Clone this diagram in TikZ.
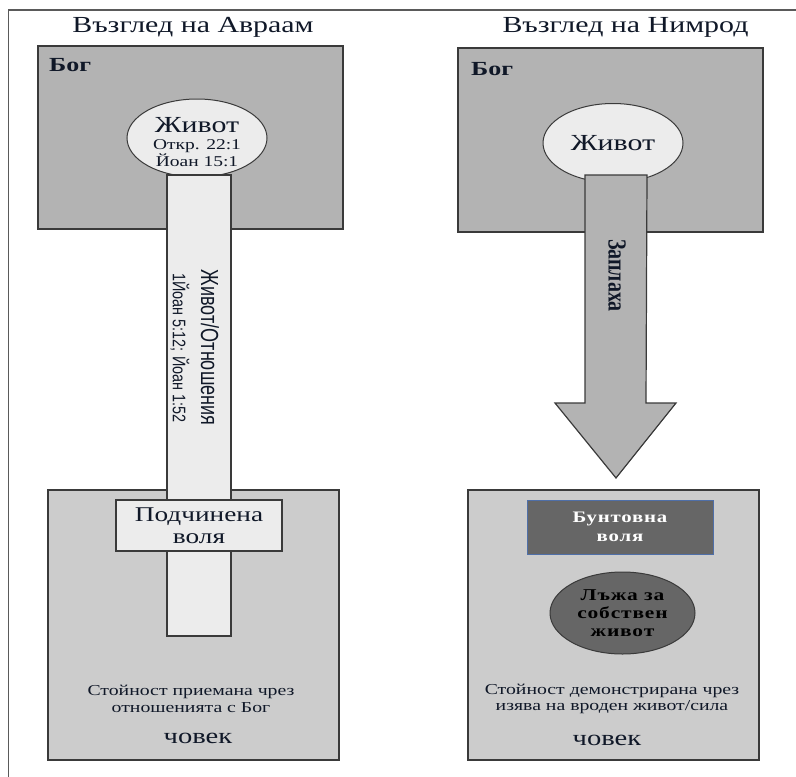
\documentclass[tikz,border=0pt]{standalone}
\usepackage{fontspec}
\setmainfont{Liberation Serif}[FakeStretch=1.3]
\newfontfamily\plainserif{Liberation Serif}
\newfontfamily\narrowsans{Liberation Sans}
\newfontfamily\spacedserif{Liberation Serif}[FakeStretch=1.3, LetterSpace=5]
\usepackage{graphicx}
\definecolor{godgray}{HTML}{B3B3B3}
\definecolor{mangray}{HTML}{CCCCCC}
\definecolor{lightfill}{HTML}{ECECEC}
\definecolor{darkfill}{HTML}{666666}
\definecolor{edgegray}{HTML}{3A3A3A}
\definecolor{framegray}{HTML}{5A5A5A}
\definecolor{bluedge}{HTML}{4F6FA8}
\definecolor{txt}{HTML}{101828}
\usetikzlibrary{shapes.geometric,calc}
\tikzset{
  godbox/.style={draw=edgegray, line width=1.2pt, fill=godgray, rectangle, inner sep=0pt},
  manbox/.style={draw=edgegray, line width=1.2pt, fill=mangray, rectangle, inner sep=0pt},
  lifeoval/.style={draw=edgegray, line width=1pt, fill=lightfill, ellipse, inner sep=0pt, align=center, text=txt},
  barbox/.style={draw=edgegray, line width=1.2pt, fill=lightfill, rectangle, inner sep=0pt},
  willbox/.style={draw=edgegray, line width=1.2pt, fill=lightfill, rectangle, inner sep=0pt, align=center, text=txt},
  titletext/.style={font=\fontsize{23}{25}\selectfont, text=txt, inner sep=0pt},
  labeltext/.style={inner sep=0pt, text=txt, align=center}
}
\begin{document}
\begin{tikzpicture}[x=1pt,y=-1pt]
\useasboundingbox (0,0) rectangle (796,777);
% frame
\coordinate (fa) at (8.5,777);
\coordinate (fb) at (8.5,10);
\coordinate (fc) at (796,10);
\draw[framegray, line width=1.6pt] (fa) -- (fb) -- (fc);

% ---------- Left: Abraham ----------
\node[titletext] (tA) at (193,27) {Възглед на Авраам};
\node[godbox, minimum width=305pt, minimum height=183pt] (godA) at (190.5,137.5) {};
\node[labeltext, anchor=west, font=\fontsize{20}{22}\selectfont\bfseries] (bogA) at (49,65) {Бог};
\node[lifeoval, minimum width=140pt, minimum height=78pt] (lifeA) at (197,138) {};
\node[manbox, minimum width=291pt, minimum height=270pt] (manA) at (193.5,625) {};
\node[barbox, minimum width=64pt, minimum height=461pt] (barA) at (199,405.5) {};
\node[labeltext, font=\fontsize{23}{24}\selectfont] (lifeAt) at (197,125) {Живот};
\node[labeltext, font=\fontsize{15}{15.5}\selectfont] (lifeAr) at (197,153) {Откр. 22:1\\Йоан 15:1};
\node[labeltext, rotate=-90] (barAt) at (210,347.5) {\scalebox{0.95}[1.3]{\narrowsans\fontsize{19}{20}\selectfont Живот/Отношения}};
\node[labeltext, rotate=-90] (barAr) at (180,348) {\scalebox{1.03}[1.3]{\narrowsans\fontsize{14}{16}\selectfont 1Йоан 5:12; Йоан 1:52}};
\node[willbox, minimum width=166pt, minimum height=51pt, font=\fontsize{21}{22}\selectfont] (willA) at (199,525.5) {Подчинена\\воля};
\node[labeltext, font=\fontsize{15.2}{16.5}\selectfont] (valA) at (191,699) {Стойност приемана чрез\\отношенията с Бог};
\node[labeltext, font=\fontsize{22}{24}\selectfont] (manAt) at (198,738) {човек};

% ---------- Right: Nimrod ----------
\node[titletext] (tN) at (625.5,27) {Възглед на Нимрод};
\node[godbox, minimum width=305pt, minimum height=184pt] (godN) at (610.5,140) {};
\node[labeltext, anchor=west, font=\fontsize{20}{22}\selectfont\bfseries] (bogN) at (471,69.5) {Бог};
\node[lifeoval, minimum width=140pt, minimum height=79pt, font=\fontsize{23}{24}\selectfont] (lifeN) at (613,143) {Живот};
\coordinate (arT) at (616,175);
\coordinate (arP) at (616,478);
\draw[draw=edgegray, line width=1.2pt, fill=godgray, line join=miter]
  ($(arT)+(-31,0)$) -- ($(arT)+(31,0)$) -- (646,403) -- (676,403) -- (arP)
  -- (555,403) -- (585,403) -- cycle;
\node[labeltext, rotate=-90] (threat) at (617,275.5) {\scalebox{1}[1.3]{\plainserif\fontsize{20}{21}\selectfont\bfseries Заплаха}};
\node[manbox, minimum width=291pt, minimum height=270pt] (manN) at (613.5,625) {};
\node[rectangle, draw=bluedge, line width=1pt, fill=darkfill, minimum width=186pt, minimum height=54pt, inner sep=0pt, align=center, text=white, font=\spacedserif\fontsize{16}{19.5}\selectfont\bfseries] (willN) at (620,527) {Бунтовна\\воля};
\node[ellipse, draw=edgegray, line width=1pt, fill=darkfill, minimum width=145pt, minimum height=82pt, inner sep=0pt, align=center, text=black, font=\spacedserif\fontsize{16.5}{18}\selectfont\bfseries] (lie) at (622.5,613) {Лъжа за\\собствен\\живот};
\node[labeltext, font=\fontsize{15.2}{16.5}\selectfont] (valN) at (612,699) {Стойност демонстрирана чрез\\изява на вроден живот/сила};
\node[labeltext, font=\fontsize{22}{24}\selectfont] (manNt) at (607,740) {човек};
\end{tikzpicture}
\end{document}
